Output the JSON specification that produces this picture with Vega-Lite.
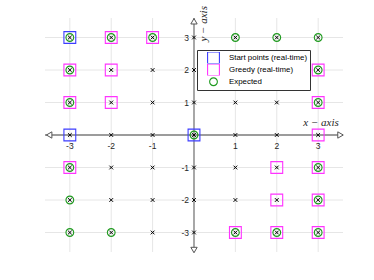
{
  "$schema": "https://vega.github.io/schema/vega-lite/v6.json",
  "width": 298,
  "height": 234,
  "autosize": "none",
  "padding": {"left": 45, "top": 18, "right": 31, "bottom": 28},
  "background": "white",
  "config": {"view": {"stroke": null}, "font": "Liberation Sans"},
  "datasets": {
    "ticks": [{"v": -3}, {"v": -2}, {"v": -1}, {"v": 0}, {"v": 1}, {"v": 2}, {"v": 3}],
    "pts": [
      {"x": -3, "y": -3}, {"x": -3, "y": -2}, {"x": -3, "y": -1}, {"x": -3, "y": 0}, {"x": -3, "y": 1}, {"x": -3, "y": 2}, {"x": -3, "y": 3},
      {"x": -2, "y": -3}, {"x": -2, "y": -2}, {"x": -2, "y": -1}, {"x": -2, "y": 0}, {"x": -2, "y": 1}, {"x": -2, "y": 2}, {"x": -2, "y": 3},
      {"x": -1, "y": -3}, {"x": -1, "y": -2}, {"x": -1, "y": -1}, {"x": -1, "y": 0}, {"x": -1, "y": 1}, {"x": -1, "y": 2}, {"x": -1, "y": 3},
      {"x": 0, "y": -3}, {"x": 0, "y": -2}, {"x": 0, "y": -1}, {"x": 0, "y": 0}, {"x": 0, "y": 1}, {"x": 0, "y": 2}, {"x": 0, "y": 3},
      {"x": 1, "y": -3}, {"x": 1, "y": -2}, {"x": 1, "y": -1}, {"x": 1, "y": 0}, {"x": 1, "y": 1}, {"x": 1, "y": 2}, {"x": 1, "y": 3},
      {"x": 2, "y": -3}, {"x": 2, "y": -2}, {"x": 2, "y": -1}, {"x": 2, "y": 0}, {"x": 2, "y": 1}, {"x": 2, "y": 2}, {"x": 2, "y": 3},
      {"x": 3, "y": -3}, {"x": 3, "y": -2}, {"x": 3, "y": -1}, {"x": 3, "y": 0}, {"x": 3, "y": 1}, {"x": 3, "y": 2}, {"x": 3, "y": 3}
    ],
    "series": [
      {"x": -3, "y": 3, "s": "Start points (real-time)"},
      {"x": -3, "y": 0, "s": "Start points (real-time)"},
      {"x": 0, "y": 0, "s": "Start points (real-time)"},
      {"x": -2, "y": 3, "s": "Greedy (real-time)"},
      {"x": -1, "y": 3, "s": "Greedy (real-time)"},
      {"x": -3, "y": 2, "s": "Greedy (real-time)"},
      {"x": -2, "y": 2, "s": "Greedy (real-time)"},
      {"x": -3, "y": 1, "s": "Greedy (real-time)"},
      {"x": -2, "y": 1, "s": "Greedy (real-time)"},
      {"x": 3, "y": 2, "s": "Greedy (real-time)"},
      {"x": 3, "y": 1, "s": "Greedy (real-time)"},
      {"x": 3, "y": 0, "s": "Greedy (real-time)"},
      {"x": -3, "y": -1, "s": "Greedy (real-time)"},
      {"x": 2, "y": -1, "s": "Greedy (real-time)"},
      {"x": 3, "y": -1, "s": "Greedy (real-time)"},
      {"x": 2, "y": -2, "s": "Greedy (real-time)"},
      {"x": 3, "y": -2, "s": "Greedy (real-time)"},
      {"x": 1, "y": -3, "s": "Greedy (real-time)"},
      {"x": 2, "y": -3, "s": "Greedy (real-time)"},
      {"x": 3, "y": -3, "s": "Greedy (real-time)"},
      {"x": -3, "y": 3, "s": "Expected"},
      {"x": -2, "y": 3, "s": "Expected"},
      {"x": -1, "y": 3, "s": "Expected"},
      {"x": 1, "y": 3, "s": "Expected"},
      {"x": 2, "y": 3, "s": "Expected"},
      {"x": 3, "y": 3, "s": "Expected"},
      {"x": -3, "y": 2, "s": "Expected"},
      {"x": 3, "y": 2, "s": "Expected"},
      {"x": -3, "y": 1, "s": "Expected"},
      {"x": 3, "y": 1, "s": "Expected"},
      {"x": 0, "y": 0, "s": "Expected"},
      {"x": -3, "y": -1, "s": "Expected"},
      {"x": 3, "y": -1, "s": "Expected"},
      {"x": -3, "y": -2, "s": "Expected"},
      {"x": 3, "y": -2, "s": "Expected"},
      {"x": -3, "y": -3, "s": "Expected"},
      {"x": -2, "y": -3, "s": "Expected"},
      {"x": 1, "y": -3, "s": "Expected"},
      {"x": 2, "y": -3, "s": "Expected"},
      {"x": 3, "y": -3, "s": "Expected"}
    ],
    "arrowL": [{"x": -3.5, "y": 0}],
    "arrowR": [{"x": 3.54, "y": 0}],
    "arrowU": [{"x": 0, "y": 3.5}],
    "arrowD": [{"x": 0, "y": -3.54}],
    "xlabels": [
      {"x": -3, "y": 0, "t": "-3"}, {"x": -2, "y": 0, "t": "-2"}, {"x": -1, "y": 0, "t": "-1"},
      {"x": 1, "y": 0, "t": "1"}, {"x": 2, "y": 0, "t": "2"}, {"x": 3, "y": 0, "t": "3"}
    ],
    "ylabels": [
      {"x": 0, "y": 3, "t": "3"}, {"x": 0, "y": 2, "t": "2"}, {"x": 0, "y": 1, "t": "1"},
      {"x": 0, "y": -1, "t": "-1"}, {"x": 0, "y": -2, "t": "-2"}, {"x": 0, "y": -3, "t": "-3"}
    ],
    "xtitle": [{"x": 3.07, "y": 0.38, "t": "x − axis"}],
    "ytitle": [{"x": 0.24, "y": 3.42, "t": "y − axis"}]
  },
  "layer": [
    {
      "data": {"name": "ticks"},
      "mark": {"type": "rule", "color": "#e6e6e6", "strokeWidth": 1},
      "encoding": {
        "x": {"field": "v", "type": "quantitative", "scale": {"domain": [-3.6, 3.6], "nice": false, "zero": false}, "axis": null}
      }
    },
    {
      "data": {"name": "ticks"},
      "mark": {"type": "rule", "color": "#e6e6e6", "strokeWidth": 1},
      "encoding": {
        "y": {"field": "v", "type": "quantitative", "scale": {"domain": [-3.6, 3.6], "nice": false, "zero": false}, "axis": null}
      }
    },
    {
      "data": {"values": [{}]},
      "mark": {"type": "rule", "color": "#7f7f7f", "strokeWidth": 1.3},
      "encoding": {
        "y": {"datum": 0, "type": "quantitative", "scale": {"domain": [-3.6, 3.6], "nice": false, "zero": false}, "axis": null}
      }
    },
    {
      "data": {"values": [{}]},
      "mark": {"type": "rule", "color": "#7f7f7f", "strokeWidth": 1.3},
      "encoding": {
        "x": {"datum": 0, "type": "quantitative", "scale": {"domain": [-3.6, 3.6], "nice": false, "zero": false}, "axis": null}
      }
    },
    {
      "data": {"name": "arrowL"},
      "mark": {"type": "point", "shape": "triangle-left", "filled": true, "fill": "white", "stroke": "#555555", "strokeWidth": 1, "size": 40, "opacity": 1},
      "encoding": {
        "x": {"field": "x", "type": "quantitative", "scale": {"domain": [-3.6, 3.6], "nice": false, "zero": false}, "axis": null},
        "y": {"field": "y", "type": "quantitative", "scale": {"domain": [-3.6, 3.6], "nice": false, "zero": false}, "axis": null}
      }
    },
    {
      "data": {"name": "arrowR"},
      "mark": {"type": "point", "shape": "triangle-right", "filled": true, "fill": "white", "stroke": "#555555", "strokeWidth": 1, "size": 40, "opacity": 1},
      "encoding": {
        "x": {"field": "x", "type": "quantitative", "scale": {"domain": [-3.6, 3.6], "nice": false, "zero": false}, "axis": null},
        "y": {"field": "y", "type": "quantitative", "scale": {"domain": [-3.6, 3.6], "nice": false, "zero": false}, "axis": null}
      }
    },
    {
      "data": {"name": "arrowU"},
      "mark": {"type": "point", "shape": "triangle-up", "filled": true, "fill": "white", "stroke": "#555555", "strokeWidth": 1, "size": 40, "opacity": 1},
      "encoding": {
        "x": {"field": "x", "type": "quantitative", "scale": {"domain": [-3.6, 3.6], "nice": false, "zero": false}, "axis": null},
        "y": {"field": "y", "type": "quantitative", "scale": {"domain": [-3.6, 3.6], "nice": false, "zero": false}, "axis": null}
      }
    },
    {
      "data": {"name": "arrowD"},
      "mark": {"type": "point", "shape": "triangle-down", "filled": true, "fill": "white", "stroke": "#555555", "strokeWidth": 1, "size": 40, "opacity": 1},
      "encoding": {
        "x": {"field": "x", "type": "quantitative", "scale": {"domain": [-3.6, 3.6], "nice": false, "zero": false}, "axis": null},
        "y": {"field": "y", "type": "quantitative", "scale": {"domain": [-3.6, 3.6], "nice": false, "zero": false}, "axis": null}
      }
    },
    {
      "data": {"name": "pts"},
      "mark": {"type": "point", "shape": "M-1,-1L1,1M-1,1L1,-1", "filled": false, "stroke": "black", "strokeWidth": 1, "size": 14, "opacity": 1},
      "encoding": {
        "x": {"field": "x", "type": "quantitative", "scale": {"domain": [-3.6, 3.6], "nice": false, "zero": false}, "axis": null},
        "y": {"field": "y", "type": "quantitative", "scale": {"domain": [-3.6, 3.6], "nice": false, "zero": false}, "axis": null}
      }
    },
    {
      "data": {"name": "series"},
      "mark": {"type": "point", "filled": false, "strokeWidth": 1.1, "opacity": 1},
      "encoding": {
        "x": {"field": "x", "type": "quantitative", "scale": {"domain": [-3.6, 3.6], "nice": false, "zero": false}, "axis": null},
        "y": {"field": "y", "type": "quantitative", "scale": {"domain": [-3.6, 3.6], "nice": false, "zero": false}, "axis": null},
        "color": {
          "field": "s", "type": "nominal",
          "scale": {"domain": ["Start points (real-time)", "Greedy (real-time)", "Expected"], "range": ["#3d3dff", "#ff33ff", "#1f9a1f"]},
          "legend": {
            "orient": "none", "legendX": 152, "legendY": 32, "title": null,
            "strokeColor": "#333333", "fillColor": "white", "padding": 2, "cornerRadius": 0,
            "symbolOffset": 8, "labelOffset": 9, "labelFontSize": 7.9, "labelColor": "black",
            "rowPadding": 0, "clipHeight": 11.5, "symbolStrokeWidth": 1.1, "labelLimit": 200
          }
        },
        "shape": {
          "field": "s", "type": "nominal",
          "scale": {"domain": ["Start points (real-time)", "Greedy (real-time)", "Expected"], "range": ["square", "square", "circle"]}
        },
        "size": {
          "field": "s", "type": "nominal",
          "scale": {"type": "ordinal", "domain": ["Start points (real-time)", "Greedy (real-time)", "Expected"], "range": [140, 140, 60]}
        }
      }
    },
    {
      "data": {"name": "xlabels"},
      "mark": {"type": "text", "fontSize": 8.5, "color": "#262626", "baseline": "top", "align": "center", "dy": 7},
      "encoding": {
        "x": {"field": "x", "type": "quantitative", "scale": {"domain": [-3.6, 3.6], "nice": false, "zero": false}, "axis": null},
        "y": {"field": "y", "type": "quantitative", "scale": {"domain": [-3.6, 3.6], "nice": false, "zero": false}, "axis": null},
        "text": {"field": "t"}
      }
    },
    {
      "data": {"name": "ylabels"},
      "mark": {"type": "text", "fontSize": 8.5, "color": "#262626", "baseline": "middle", "align": "right", "dx": -5},
      "encoding": {
        "x": {"field": "x", "type": "quantitative", "scale": {"domain": [-3.6, 3.6], "nice": false, "zero": false}, "axis": null},
        "y": {"field": "y", "type": "quantitative", "scale": {"domain": [-3.6, 3.6], "nice": false, "zero": false}, "axis": null},
        "text": {"field": "t"}
      }
    },
    {
      "data": {"name": "xtitle"},
      "mark": {"type": "text", "fontSize": 11, "font": "Liberation Serif", "fontStyle": "italic", "color": "#262626", "baseline": "middle", "align": "center"},
      "encoding": {
        "x": {"field": "x", "type": "quantitative", "scale": {"domain": [-3.6, 3.6], "nice": false, "zero": false}, "axis": null},
        "y": {"field": "y", "type": "quantitative", "scale": {"domain": [-3.6, 3.6], "nice": false, "zero": false}, "axis": null},
        "text": {"field": "t"}
      }
    },
    {
      "data": {"name": "ytitle"},
      "mark": {"type": "text", "fontSize": 11, "font": "Liberation Serif", "fontStyle": "italic", "color": "#262626", "baseline": "middle", "align": "center", "angle": 270},
      "encoding": {
        "x": {"field": "x", "type": "quantitative", "scale": {"domain": [-3.6, 3.6], "nice": false, "zero": false}, "axis": null},
        "y": {"field": "y", "type": "quantitative", "scale": {"domain": [-3.6, 3.6], "nice": false, "zero": false}, "axis": null},
        "text": {"field": "t"}
      }
    }
  ]
}
